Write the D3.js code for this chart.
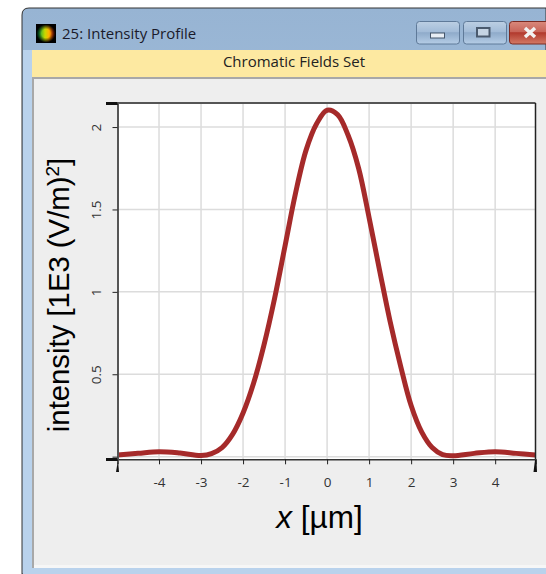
<!DOCTYPE html>
<html>
<head>
<meta charset="utf-8">
<script src="https://cdn.jsdelivr.net/npm/d3@7"></script>
<style>
html, body { margin: 0; padding: 0; background: #fff; overflow: hidden; }
svg { display: block; }
text { font-family: "Open Sans", "Noto Sans", sans-serif; }
.axis-title { font-family: "Liberation Sans", Arial, sans-serif; fill: #000; }
</style>
</head>
<body>
<svg id="graph" width="546" height="574"></svg>
<script>
const window_title = "25: Intensity Profile";
const bar_title = "Chromatic Fields Set";
const x_ticks = [-4, -3, -2, -1, 0, 1, 2, 3, 4];
const y_ticks = [0, 0.5, 1, 1.5, 2];
const y_tick_labels = ["", "0.5", "1", "1.5", "2"];

const x_values = [-4.99, -4.5, -4, -3.5, -3, -2.75, -2.5, -2.25, -2, -1.75, -1.5, -1.25, -1, -0.75, -0.5, -0.25, 0, 0.25, 0.5, 0.75, 1, 1.25, 1.5, 1.75, 2, 2.25, 2.5, 2.75, 3, 3.5, 4, 4.5, 4.96];
const intensity = [0.01, 0.02, 0.03, 0.022, 0.007, 0.018, 0.055, 0.135, 0.265, 0.445, 0.68, 0.96, 1.28, 1.6, 1.86, 2.02, 2.102, 2.075, 1.95, 1.75, 1.45, 1.13, 0.82, 0.55, 0.31, 0.15, 0.055, 0.012, 0.006, 0.02, 0.03, 0.02, 0.01];

const svg = d3.select("#graph");
const defs = svg.append("defs");

function vertical_gradient(id, stops) {
    const g = defs.append("linearGradient").attr("id", id)
        .attr("x1", 0).attr("y1", 0).attr("x2", 0).attr("y2", 1);
    stops.forEach(s => g.append("stop").attr("offset", s[0]).attr("stop-color", s[1]));
}

vertical_gradient("title-bg", [[0, "#97b4d3"], [1, "#b9d2ec"]]);
vertical_gradient("btn-bg", [[0, "#bccfe3"], [0.45, "#a3bcd8"], [0.5, "#8fabca"], [1, "#b5cde6"]]);
vertical_gradient("close-bg", [[0, "#d9897c"], [0.45, "#c8655a"], [0.5, "#b23a2e"], [1, "#d47a66"]]);

const icon_colors = defs.append("linearGradient").attr("id", "icon-colors");
[[0.1, "#00a040"], [0.45, "#c8d800"], [0.65, "#ffb000"], [0.95, "#d01010"]]
    .forEach(s => icon_colors.append("stop").attr("offset", s[0]).attr("stop-color", s[1]));
const icon_edge = defs.append("radialGradient").attr("id", "icon-edge");
[[0, "#000", 0], [0.45, "#000", 0], [0.95, "#000", 1]]
    .forEach(s => icon_edge.append("stop").attr("offset", s[0]).attr("stop-color", s[1]).attr("stop-opacity", s[2]));

function draw_window() {
    svg.append("path")
        .attr("d", "M546,8 H29 Q22,8 22,15 V574 H546 Z")
        .attr("fill", "url(#title-bg)")
        .attr("stroke", "#333")
        .attr("stroke-width", 1);
    svg.append("rect").attr("x", 23).attr("y", 50).attr("width", 10).attr("height", 524).attr("fill", "#b9d2ec");
    svg.append("rect").attr("x", 23).attr("y", 566).attr("width", 523).attr("height", 8).attr("fill", "#b9d2ec");

    svg.append("rect").attr("x", 32).attr("y", 50).attr("width", 514).attr("height", 27).attr("fill", "#fde9a1");
    svg.append("rect").attr("x", 32).attr("y", 77).attr("width", 514).attr("height", 491).attr("fill", "#a8a8a8");
    svg.append("rect").attr("x", 34).attr("y", 79).attr("width", 512).attr("height", 486).attr("fill", "#eeeeee");
    svg.append("rect").attr("x", 34).attr("y", 565).attr("width", 512).attr("height", 3).attr("fill", "#f6f6f6");

    svg.append("rect").attr("x", 36).attr("y", 24).attr("width", 20).attr("height", 19).attr("fill", "url(#icon-colors)");
    svg.append("rect").attr("x", 36).attr("y", 24).attr("width", 20).attr("height", 19).attr("fill", "url(#icon-edge)");

    svg.append("text").attr("x", 62).attr("y", 39)
        .attr("font-size", 15).attr("fill", "#1a1a2a").text(window_title);
    svg.append("text").attr("x", 294).attr("y", 67).attr("text-anchor", "middle")
        .attr("font-size", 15).attr("fill", "#222").text(bar_title);

    window_button(416.5, 43, "url(#btn-bg)", "#5f7a99");
    window_button(463.5, 43, "url(#btn-bg)", "#5f7a99");
    window_button(509.5, 50, "url(#close-bg)", "#7a2a22");

    svg.append("rect").attr("x", 430.5).attr("y", 33).attr("width", 14).attr("height", 5)
        .attr("fill", "#e8eef5").attr("stroke", "#45566b");
    svg.append("rect").attr("x", 477).attr("y", 28).attr("width", 12.5).attr("height", 8.5)
        .attr("fill", "#c5d4e4").attr("stroke", "#4a5a6e").attr("stroke-width", 2);
    svg.append("path").attr("d", "M525,28 L535,37 M535,28 L525,37")
        .attr("stroke", "#f2f2f2").attr("stroke-width", 3.5);
}

function window_button(x, w, fill, stroke) {
    svg.append("rect").attr("x", x).attr("y", 21.5).attr("width", w).attr("height", 22.5).attr("rx", 3)
        .attr("fill", fill).attr("stroke", stroke);
}

function draw_chart() {
    const x = d3.scaleLinear().domain([-4.988, 4.96]).range([117.5, 535.5]);
    const y = d3.scaleLinear().domain([-0.016, 2.146]).range([459.3, 103]);

    svg.append("rect").attr("x", 117.5).attr("y", 103).attr("width", 418).attr("height", 356.3).attr("fill", "#fff");

    const grid = svg.append("g").attr("stroke", "#dcdcdc").attr("stroke-width", 1.5);
    grid.selectAll(".vgrid").data(x_ticks).enter().append("line")
        .attr("x1", d => x(d)).attr("x2", d => x(d)).attr("y1", 103).attr("y2", 459);
    grid.selectAll(".hgrid").data(y_ticks).enter().append("line")
        .attr("x1", 117.5).attr("x2", 535.5).attr("y1", d => y(d)).attr("y2", d => y(d));

    const line = d3.line()
        .x((d, i) => x(x_values[i]))
        .y(d => y(d))
        .curve(d3.curveCatmullRom);
    svg.append("path")
        .datum(intensity)
        .attr("d", line)
        .attr("fill", "none")
        .attr("stroke", "#a52a2a")
        .attr("stroke-width", 5)
        .attr("stroke-linejoin", "round");

    // frame
    svg.append("line").attr("x1", 117).attr("x2", 535.5).attr("y1", 103).attr("y2", 103)
        .attr("stroke", "#555").attr("stroke-width", 2);
    svg.append("line").attr("x1", 535.5).attr("x2", 535.5).attr("y1", 103).attr("y2", 460)
        .attr("stroke", "#222").attr("stroke-width", 1.5);

    const x_axis = d3.axisBottom(x).tickValues(x_ticks).tickSize(5).tickPadding(13).tickFormat(d3.format("d"));
    const gx = svg.append("g").attr("transform", "translate(0,459.3)").call(x_axis);
    gx.select(".domain").attr("stroke", "#333").attr("stroke-width", 1.5);
    gx.selectAll(".tick line").attr("stroke", "#222");
    gx.selectAll(".tick text")
        .attr("font-family", "'Open Sans', sans-serif").attr("font-size", 13.5).attr("fill", "#333")
        .text(d => String(d));

    const y_axis = d3.axisLeft(y).tickValues(y_ticks).tickSize(5).tickFormat((d, i) => y_tick_labels[i]);
    const gy = svg.append("g").attr("transform", "translate(117.5,0)").call(y_axis);
    gy.select(".domain").attr("stroke", "#555").attr("stroke-width", 2);
    gy.selectAll(".tick line").attr("stroke", "#222");
    gy.selectAll(".tick text")
        .attr("font-family", "'Open Sans', sans-serif").attr("font-size", 13.5).attr("fill", "#333")
        .attr("text-anchor", "middle").attr("dy", 0)
        .attr("x", 0).attr("y", 0)
        .attr("transform", "translate(-17,0) rotate(-90)");

    // end marks of the axes
    const ends = svg.append("g").attr("fill", "#111");
    ends.append("path").attr("d", "M106,102 L117,102 L118,105 L106,105 Z");
    ends.append("path").attr("d", "M106,458 L117,458 L118,461 L106,461 Z");
    ends.append("path").attr("d", "M116,472 L118,460 L119,472 Z");
    ends.append("path").attr("d", "M533.5,472 L535,460 L536.5,460 L537,472 Z");

    const x_title = svg.append("text").attr("class", "axis-title")
        .attr("x", 319.5).attr("y", 528).attr("text-anchor", "middle").attr("font-size", 31.5);
    x_title.append("tspan").attr("font-style", "italic").text("x");
    x_title.append("tspan").text(" [µm]");

    const y_title = svg.append("text").attr("class", "axis-title")
        .attr("text-anchor", "middle").attr("font-size", 29.3)
        .attr("transform", "translate(69,295) rotate(-90)");
    y_title.append("tspan").text("intensity [1E3 (V/m)");
    y_title.append("tspan").attr("font-size", 19).attr("dy", -10).text("2");
    y_title.append("tspan").attr("dy", 10).text("]");
}

draw_window();
draw_chart();
</script>
</body>
</html>
